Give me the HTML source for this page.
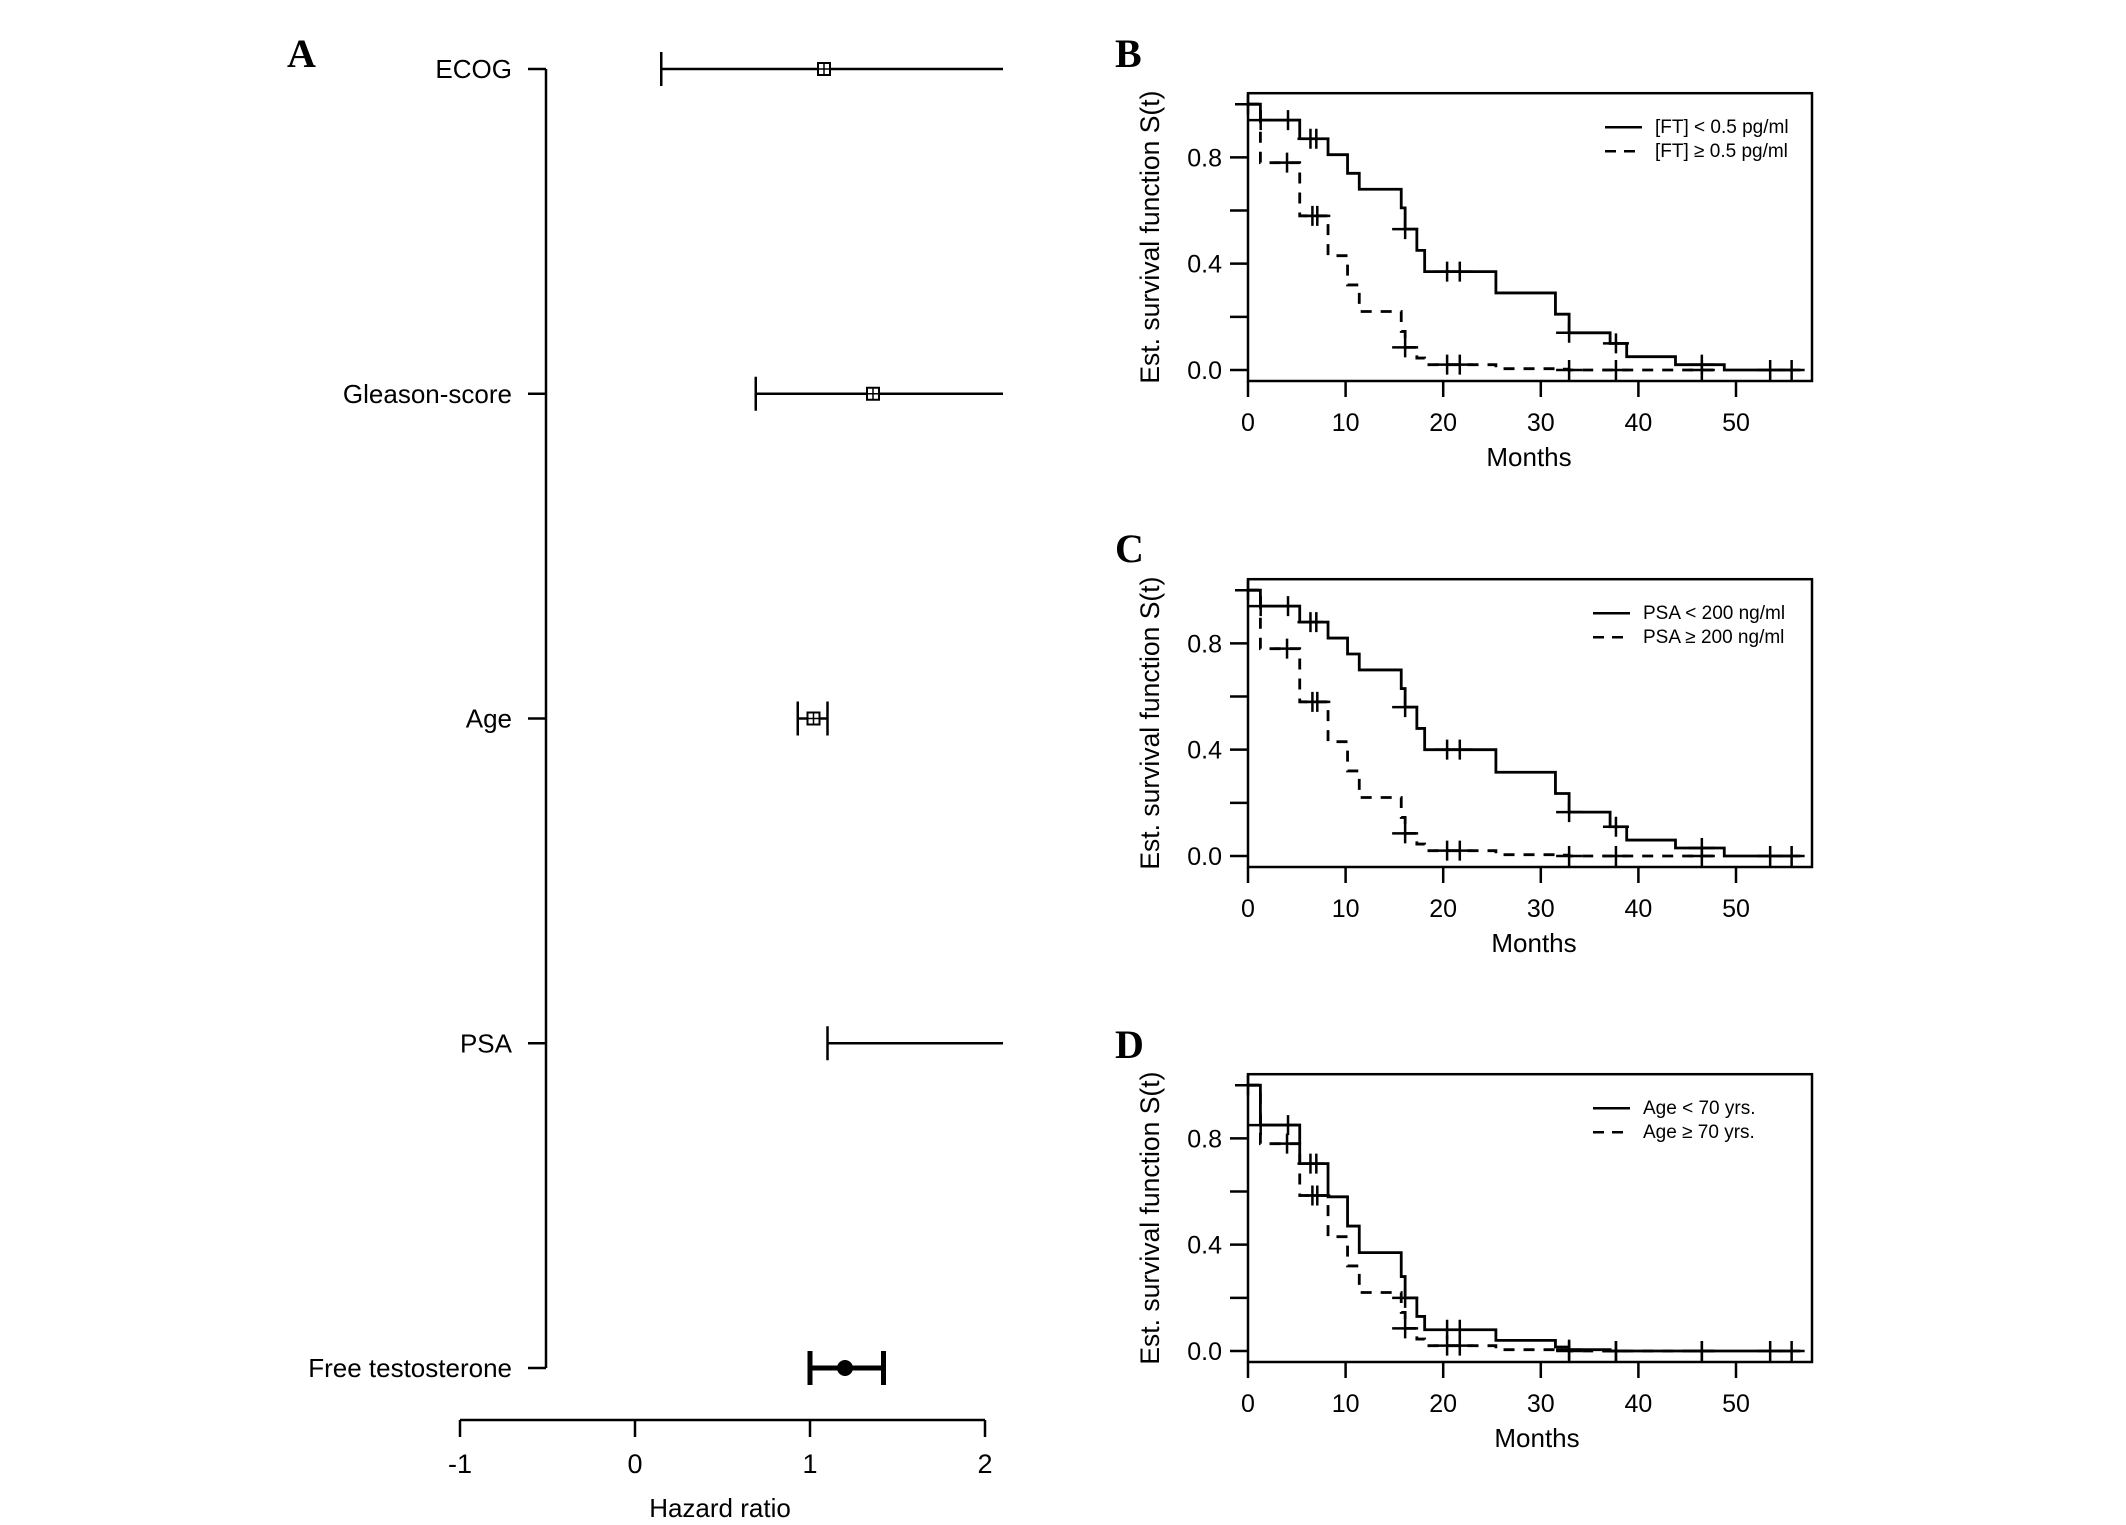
<!DOCTYPE html>
<html><head><meta charset="utf-8"><title>Forest plot and Kaplan-Meier curves</title>
<style>
html,body{margin:0;padding:0;background:#fff;}
svg{display:block;font-family:"Liberation Sans",Arial,sans-serif;}
.let{font-family:"Liberation Serif","Times New Roman",serif;font-weight:bold;font-size:40px;}
</style></head>
<body>
<svg id="fig" width="2126" height="1525" viewBox="0 0 2126 1525" xmlns="http://www.w3.org/2000/svg">
<rect x="0" y="0" width="2126" height="1525" fill="#fff"/>
<g id="panelA"></g>
<g id="panelB"></g>
<g id="panelC"></g>
<g id="panelD"></g>
</svg>
<script>
// ---------- Forest plot data ----------
const forestLabels = ["ECOG","Gleason-score","Age","PSA","Free testosterone"];
const forestLower = [0.15, 0.69, 0.93, 1.10, 1.00];
const forestPoint = [1.08, 1.36, 1.02, null, 1.20];
const forestUpper = [3.0, 3.0, 1.10, 3.0, 1.42];
const hrTicks = [-1, 0, 1, 2];

// ---------- KM data (panel B) ----------
const kmTimes = [1.27, 5.3, 8.2, 10.2, 11.4, 15.7, 16.1, 17.3, 18.1, 25.4, 31.5, 32.9, 37.1, 38.8, 43.8, 48.8];
const bSolid = [0.94, 0.87, 0.81, 0.74, 0.68, 0.61, 0.53, 0.45, 0.37, 0.29, 0.21, 0.14, 0.10, 0.05, 0.02, 0.0];
const bDashed = [0.78, 0.58, 0.43, 0.32, 0.22, 0.145, 0.085, 0.045, 0.02, 0.005, 0.003, 0.0, 0.0, 0.0, 0.0, 0.0];
// panel C
const cSolid = [0.94, 0.88, 0.82, 0.76, 0.70, 0.63, 0.56, 0.48, 0.40, 0.315, 0.235, 0.165, 0.11, 0.06, 0.03, 0.0];
const cDashed = [0.78, 0.58, 0.43, 0.32, 0.22, 0.145, 0.085, 0.045, 0.02, 0.005, 0.003, 0.0, 0.0, 0.0, 0.0, 0.0];
// panel D
const dSolid = [0.85, 0.705, 0.58, 0.47, 0.37, 0.28, 0.20, 0.13, 0.08, 0.04, 0.015, 0.005, 0.0, 0.0, 0.0, 0.0];
const dDashed = [0.78, 0.585, 0.43, 0.32, 0.22, 0.145, 0.085, 0.045, 0.02, 0.005, 0.003, 0.0, 0.0, 0.0, 0.0, 0.0];
const solidEnd = 56.6, dashedEnd = 47.7;
const censSolidT = [0, 1.3, 4.1, 6.4, 7.0, 16.1, 20.4, 21.7, 32.9, 37.7, 46.5, 53.5, 55.7];
const censDashedT = [4.0, 6.6, 7.1, 16.1, 20.4, 21.7, 32.9, 37.7, 46.5];
const monthTicks = [0, 10, 20, 30, 40, 50];
const survTicks = [0, 0.2, 0.4, 0.6, 0.8];
const survTickLabels = ["0.0", "", "0.4", "", "0.8"];

const NS = "http://www.w3.org/2000/svg";
function mk(parent, tag, attrs, text){
  const e = document.createElementNS(NS, tag);
  for (const k in attrs) e.setAttribute(k, attrs[k]);
  if (text !== undefined) e.textContent = text;
  parent.appendChild(e);
  return e;
}

// ---------- Panel A ----------
(function(){
  const g = document.getElementById('panelA');
  const hrX = v => 460 + (v + 1) * 175;
  const rowY = i => 69 + i * 324.75;
  const clipX = 1003;
  let t = mk(g,'text',{x:287,y:67,'class':'let'},'A');
  
  
  let ax = mk(g,'line',{x1:546,y1:rowY(0),x2:546,y2:rowY(4),stroke:'#000','stroke-width':2.5});
  
  
  forestLabels.forEach((lab,i)=>{
    const y = rowY(i);
    const tk = mk(g,'line',{x1:528,y1:y,x2:546,y2:y,stroke:'#000','stroke-width':2.5});
    
    
    const tx = mk(g,'text',{x:512,y:y+9,'text-anchor':'end','font-size':26},lab);
    
    
    const bold = (i === 4);
    const sw = bold ? 5 : 2.5;
    const x1 = hrX(forestLower[i]);
    const x2 = Math.min(hrX(forestUpper[i]), clipX);
    const ci = mk(g,'line',{x1:x1,y1:y,x2:x2,y2:y,stroke:'#000','stroke-width':sw});
    
    
    const cap = mk(g,'line',{x1:x1,y1:y-17,x2:x1,y2:y+17,stroke:'#000','stroke-width':sw});
    
    
    if (hrX(forestUpper[i]) <= clipX){
      const cap2 = mk(g,'line',{x1:x2,y1:y-17,x2:x2,y2:y+17,stroke:'#000','stroke-width':sw});
      
      
    }
    if (forestPoint[i] !== null){
      const px = hrX(forestPoint[i]);
      if (bold){
        const c = mk(g,'circle',{cx:px,cy:y,r:8,fill:'#000'});
        
        
      } else {
        const b = mk(g,'rect',{x:px-6,y:y-6,width:12,height:12,fill:'#fff',stroke:'#000','stroke-width':2});
        
        
        mk(g,'line',{x1:px,y1:y-6,x2:px,y2:y+6,stroke:'#000','stroke-width':1.5});
        mk(g,'line',{x1:px-6,y1:y,x2:px+6,y2:y,stroke:'#000','stroke-width':1.5});
      }
    }
  });
  const axY = 1420;
  const xa = mk(g,'line',{x1:hrX(hrTicks[0]),y1:axY,x2:hrX(hrTicks[hrTicks.length-1]),y2:axY,stroke:'#000','stroke-width':2.5});
  
  
  hrTicks.forEach(v=>{
    const x = hrX(v);
    const tk = mk(g,'line',{x1:x,y1:axY,x2:x,y2:axY+17,stroke:'#000','stroke-width':2.5});
    
    
    const tl = mk(g,'text',{x:x,y:1473,'text-anchor':'middle','font-size':27},String(v));
    
    
  });
  const tt = mk(g,'text',{x:720,y:1517,'text-anchor':'middle','font-size':26},'Hazard ratio');
  
  
})();

// ---------- KM panels ----------
function kmPanel(id, letter, letterY, y0, solid, dashed, leg1, leg2, legX, monthsX){
  const g = document.getElementById(id);
  const X = m => 1248 + m * 9.76;
  const Y = s => y0 - s * 265.8;
  const top = Y(1) - 11, bot = y0 + 11, left = 1248, right = 1812;
  let t = mk(g,'text',{x:1115,y:letterY,'class':'let'},letter);
  
  
  const box = mk(g,'rect',{x:left,y:top,width:right-left,height:bot-top,fill:'none',stroke:'#000','stroke-width':2.5});
  
  
  survTicks.forEach((v,i)=>{
    const y = Y(v);
    const tk = mk(g,'line',{x1:1230,y1:y,x2:left,y2:y,stroke:'#000','stroke-width':2.5});
    
    
    if (survTickLabels[i]){
      const tl = mk(g,'text',{x:1222,y:y+9,'text-anchor':'end','font-size':25},survTickLabels[i]);
      
      
    }
  });
  monthTicks.forEach(v=>{
    const x = X(v);
    const tk = mk(g,'line',{x1:x,y1:bot,x2:x,y2:bot+16,stroke:'#000','stroke-width':2.5});
    
    
    const tl = mk(g,'text',{x:x,y:bot+50,'text-anchor':'middle','font-size':25},String(v));
    
    
  });
  const mt = mk(g,'text',{x:monthsX,y:bot+85,'text-anchor':'middle','font-size':26},'Months');
  
  
  const cy = (Y(1)+y0)/2;
  const yt = mk(g,'text',{x:1159,y:cy,'text-anchor':'middle','font-size':26.5,transform:'rotate(-90 1159 '+cy+')'},'Est. survival function S(t)');
  
  

  function curve(vals, end, dash, name){
    let d = 'M' + X(0) + ' ' + Y(1);
    kmTimes.forEach((tm,i)=>{
      if (tm > end) return;
      d += ' H' + X(tm) + ' V' + Y(vals[i]);
    });
    d += ' H' + X(end);
    const p = mk(g,'path',{d:d,fill:'none',stroke:'#000','stroke-width':2.8});
    if (dash) p.setAttribute('stroke-dasharray','11 9');
    
    
  }
  function survAt(vals, tm){
    let s = 1;
    kmTimes.forEach((k,i)=>{ if (k <= tm) s = vals[i]; });
    return s;
  }
  function cens(vals, times, name){
    times.forEach(tm=>{
      const x = X(tm), y = Y(survAt(vals, tm));
      const m = mk(g,'path',{d:'M'+(x-13)+' '+y+' H'+(x+13)+' M'+x+' '+(y-10)+' V'+(y+10),stroke:'#000','stroke-width':2.5,fill:'none'});
      
      
    });
  }
  curve(solid, solidEnd, false, 'survival-curve-group1');
  curve(dashed, dashedEnd, true, 'survival-curve-group2');
  cens(solid, censSolidT, 'censor-mark');
  cens(dashed, censDashedT, 'censor-mark');

  const ly1 = Y(1) + 23, ly2 = ly1 + 24;
  const l1 = mk(g,'line',{x1:legX,y1:ly1,x2:legX+37,y2:ly1,stroke:'#000','stroke-width':2.5});
  
  
  const l2 = mk(g,'line',{x1:legX,y1:ly2,x2:legX+37,y2:ly2,stroke:'#000','stroke-width':2.5,'stroke-dasharray':'11 8'});
  
  
  const t1 = mk(g,'text',{x:legX+50,y:ly1+6,'font-size':19},leg1);
  
  
  const t2 = mk(g,'text',{x:legX+50,y:ly2+6,'font-size':19},leg2);
  
  
}
kmPanel('panelB','B',67,370,bSolid,bDashed,'[FT] < 0.5 pg/ml','[FT] \u2265 0.5 pg/ml',1605,1529);
kmPanel('panelC','C',562,856,cSolid,cDashed,'PSA  <  200 ng/ml','PSA  \u2265  200 ng/ml',1593,1534);
kmPanel('panelD','D',1058,1351,dSolid,dDashed,'Age < 70 yrs.','Age \u2265 70 yrs.',1593,1537);
</script>
</body></html>
